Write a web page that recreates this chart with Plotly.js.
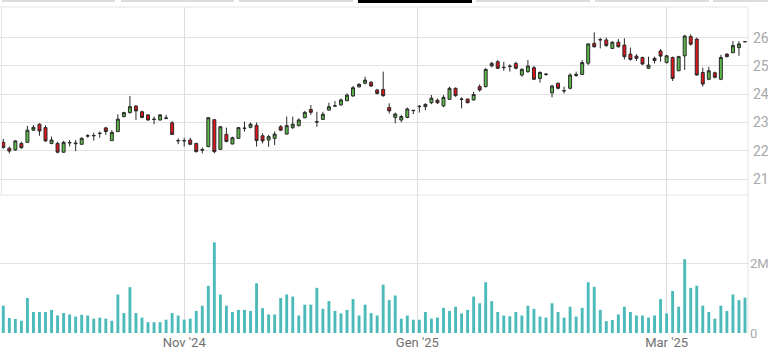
<!DOCTYPE html>
<html>
<head>
<meta charset="utf-8">
<script src="https://cdn.plot.ly/plotly-3.0.1.min.js"></script>
<style>
html,body{margin:0;padding:0;background:#fff;}
#wrap{position:relative;width:768px;height:358px;overflow:hidden;}
#chart{position:absolute;left:0;top:0;width:768px;height:358px;}
.tab{position:absolute;top:0;height:2px;background:#dcdcdc;z-index:5;}
.tab.on{background:#000;height:3px;}
</style>
</head>
<body>
<div id="wrap">
<div id="chart"></div>
<div class="tab" style="left:2px;width:113px"></div>
<div class="tab" style="left:121px;width:113px"></div>
<div class="tab" style="left:239px;width:114px"></div>
<div class="tab on" style="left:358px;width:114px"></div>
<div class="tab" style="left:476px;width:114px"></div>
<div class="tab" style="left:595px;width:114px"></div>
<div class="tab" style="left:713px;width:55px"></div>
</div>
<script>
// ---- data ----
const openP = [
22.30,22.09,22.03,22.26,22.30,22.73,22.94,22.82,22.26,22.26,
21.95,22.28,22.25,22.23,22.52,22.53,22.61,22.81,22.36,22.68,
23.21,23.35,23.58,23.38,23.27,23.12,23.09,23.15,22.99,22.35,
22.35,22.38,22.26,22.02,22.15,23.10,22.05,22.58,22.24,22.44,
22.79,22.83,22.90,22.53,22.38,22.44,22.85,22.59,22.82,22.89,
23.17,23.46,23.03,23.11,23.44,23.58,23.62,23.77,23.94,24.26,
24.39,24.42,24.15,24.17,23.53,23.18,23.09,23.18,23.42,23.56,
23.56,23.70,23.79,23.59,23.82,24.21,23.82,23.83,23.80,24.27,
24.27,25.00,25.15,24.94,24.98,25.09,24.68,24.80,24.94,24.56,
24.70,24.05,24.39,24.13,24.21,24.66,24.70,25.10,25.80,25.92,
25.92,25.62,25.84,25.74,25.42,25.35,25.30,24.92,25.27,25.53,
25.12,25.30,24.83,25.36,26.04,25.95,24.77,24.53,24.76,24.53,
25.42,25.47,25.65,25.86];
const highP = [
22.42,22.15,22.38,22.32,22.88,22.91,22.97,22.90,22.50,22.32,
22.35,22.38,22.38,22.48,22.59,22.64,22.68,22.85,22.73,23.29,
23.38,23.94,23.62,23.42,23.30,23.21,23.30,23.27,23.05,22.44,
22.46,22.46,22.28,22.12,23.18,23.11,22.88,22.82,22.50,22.83,
23.03,23.00,23.00,22.62,22.56,22.68,22.91,23.21,23.21,23.15,
23.41,23.62,23.38,23.38,23.70,23.76,23.85,24.03,24.29,24.39,
24.62,24.47,24.19,24.80,23.68,23.35,23.27,23.53,23.43,23.62,
23.68,23.97,23.85,23.97,24.27,24.24,23.89,23.85,24.09,24.35,
24.92,25.15,25.21,25.15,25.06,25.15,24.92,25.21,25.00,24.81,
24.74,24.33,24.41,24.27,24.74,24.80,25.21,25.80,26.19,26.00,
26.00,25.88,25.95,25.98,25.65,25.41,25.33,25.33,25.33,25.60,
25.39,25.33,25.36,26.10,26.12,26.00,24.94,24.97,24.80,25.39,
25.45,25.88,25.88,25.87];
const lowP = [
22.07,21.91,22.00,22.07,22.29,22.71,22.53,22.32,22.23,21.91,
21.93,22.15,21.99,22.22,22.46,22.36,22.46,22.56,22.35,22.66,
23.18,23.32,23.09,23.15,23.07,22.94,23.07,23.11,22.56,22.23,
22.15,22.20,21.94,21.91,22.12,21.91,22.03,22.30,22.23,22.43,
22.68,22.79,22.15,22.26,22.14,22.20,22.70,22.58,22.77,22.86,
23.15,23.27,22.85,23.09,23.42,23.55,23.60,23.76,23.91,24.24,
24.35,24.27,23.99,23.91,23.32,22.97,23.01,23.15,23.30,23.35,
23.44,23.65,23.65,23.54,23.80,23.91,23.50,23.68,23.77,24.09,
24.24,24.95,24.89,24.83,24.80,24.88,24.62,24.76,24.50,24.41,
24.65,23.89,24.17,24.03,24.17,24.62,24.68,25.03,25.65,25.62,
25.68,25.60,25.65,25.23,25.19,25.18,25.03,24.89,25.09,25.15,
25.09,24.47,24.82,24.86,25.72,24.66,24.27,24.50,24.56,24.50,
25.30,25.45,25.36,25.85];
const closeP = [
22.12,21.99,22.35,22.11,22.73,22.83,22.70,22.35,22.38,21.95,
22.30,22.29,22.27,22.44,22.53,22.54,22.62,22.68,22.65,23.12,
23.35,23.56,23.41,23.18,23.09,23.11,23.27,23.16,22.58,22.36,
22.36,22.23,21.97,22.04,23.17,21.97,22.85,22.33,22.46,22.82,
22.80,22.94,22.36,22.35,22.50,22.59,22.73,22.89,22.94,23.09,
23.36,23.36,23.02,23.29,23.56,23.59,23.80,23.97,24.23,24.35,
24.50,24.29,24.03,23.95,23.41,23.30,23.21,23.48,23.43,23.57,
23.64,23.86,23.70,23.89,24.21,23.95,23.83,23.70,23.99,24.15,
24.88,25.09,24.92,24.95,24.99,24.92,24.88,25.00,24.53,24.77,
24.71,24.29,24.21,24.12,24.68,24.70,25.12,25.78,25.68,25.93,
25.72,25.84,25.68,25.33,25.23,25.27,25.07,25.03,25.19,25.35,
25.36,24.56,25.33,26.06,25.77,24.68,24.36,24.83,24.60,25.30,
25.33,25.72,25.78,25.86];
const volumeM = [
0.78,0.43,0.40,0.35,1.00,0.60,0.60,0.60,0.66,0.50,
0.57,0.53,0.47,0.52,0.50,0.41,0.44,0.41,0.35,1.10,
0.57,1.31,0.57,0.44,0.31,0.31,0.31,0.38,0.57,0.50,
0.38,0.41,0.63,0.78,1.35,2.59,1.10,0.78,0.60,0.66,
0.66,0.63,1.42,0.71,0.53,0.53,1.00,1.10,1.04,0.50,
0.81,0.81,1.29,0.69,0.91,0.63,0.56,0.66,0.97,0.50,
0.81,0.57,0.50,1.38,0.94,1.07,0.41,0.50,0.38,0.38,
0.60,0.41,0.44,0.72,0.63,0.75,0.56,0.66,1.04,0.85,
1.45,0.91,0.60,0.50,0.48,0.60,0.50,0.78,0.69,0.47,
0.44,0.85,0.60,0.44,0.75,0.47,0.72,1.45,1.32,0.66,
0.34,0.37,0.53,0.75,0.60,0.50,0.50,0.44,0.50,0.97,
0.56,1.20,0.75,2.11,1.29,1.35,0.78,0.60,0.41,0.78,
0.63,1.10,0.94,1.01];
const monthTickIdx = [30, 68.66, 110];
const monthTickText = ["Nov '24", "Gen '25", "Mar '25"];
const priceTicks = [21, 22, 23, 24, 25, 26];
const volTicks = [0, 2000000];
const volTickText = ['0', '2M'];

// ---- build ----
const idx = openP.map((_, i) => i);
const volume = volumeM.map(v => v * 1e6);

const candles = {
  type: 'candlestick',
  x: idx, open: openP, high: highP, low: lowP, close: closeP,
  xaxis: 'x', yaxis: 'y',
  increasing: {line: {color: '#2a2a2a', width: 1}, fillcolor: '#5cb848'},
  decreasing: {line: {color: '#2a2a2a', width: 1}, fillcolor: '#e0141a'},
  whiskerwidth: 0,
  hoverinfo: 'skip',
  showlegend: false
};
const bars = {
  type: 'bar',
  x: idx, y: volume,
  xaxis: 'x', yaxis: 'y2',
  marker: {color: '#4dbaba', line: {width: 0}},
  hoverinfo: 'skip',
  showlegend: false
};

const split = (333 - 195) / 326;
const border = '#e4e4e4';
const layout = {
  width: 768, height: 358,
  margin: {l: 0, r: 20, t: 7, b: 25},
  paper_bgcolor: '#fff', plot_bgcolor: '#fff',
  font: {family: 'Roboto, "DejaVu Sans", sans-serif'},
  bargap: 0.52,
  boxgap: 0.3,
  showlegend: false,
  xaxis: {
    range: [-0.547, 123.5],
    tickvals: monthTickIdx, ticktext: monthTickText,
    showgrid: true, gridcolor: '#dcdcdc', gridwidth: 1,
    zeroline: false, showline: false, ticks: '',
    tickfont: {size: 13, color: '#707070'},
    rangeslider: {visible: false},
    anchor: 'y2', fixedrange: true
  },
  yaxis: {
    domain: [split, 1], side: 'right', anchor: 'x',
    range: [20.436, 27.086],
    tickvals: priceTicks,
    showgrid: true, gridcolor: '#e2e2e2', gridwidth: 1,
    zeroline: false, showline: false, ticks: '',
    tickfont: {size: 14, color: '#a8a8a8'},
    ticklabelstandoff: 4
  },
  yaxis2: {
    domain: [0, split], side: 'right', anchor: 'x',
    range: [0, 3.943e6],
    tickvals: volTicks, ticktext: volTickText,
    showgrid: true, gridcolor: '#e2e2e2', gridwidth: 1,
    zeroline: false, showline: false, ticks: '',
    tickfont: {size: 13, color: '#a8a8a8'},
    ticklabelstandoff: 1
  },
  shapes: [
    {type: 'line', xref: 'paper', yref: 'paper', x0: 0, x1: 1, y0: 1, y1: 1, line: {color: border, width: 1}},
    {type: 'line', xref: 'paper', yref: 'paper', x0: 0, x1: 1, y0: split, y1: split, line: {color: border, width: 1}},
    {type: 'line', xref: 'paper', yref: 'paper', x0: 1, x1: 1, y0: 0, y1: 1, line: {color: border, width: 1}},
    {type: 'line', xref: 'paper', yref: 'paper', x0: 0.002, x1: 0.002, y0: split, y1: 1, line: {color: border, width: 1}}
  ]
};

Plotly.newPlot('chart', [bars, candles], layout, {staticPlot: true, displayModeBar: false});
</script>
</body>
</html>
